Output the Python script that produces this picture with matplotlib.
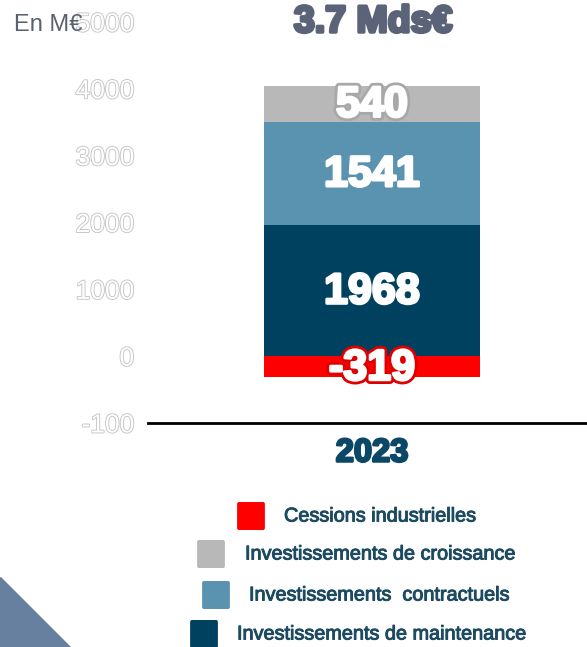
import matplotlib.pyplot as plt
import matplotlib.patheffects as pe
from matplotlib.patches import Polygon, FancyBboxPatch

# data
year = "2023"
segments = ["Cessions industrielles", "Investissements de maintenance",
            "Investissements  contractuels", "Investissements de croissance"]
values = [-319, 1968, 1541, 540]
colors = ["#ff0000", "#00415f", "#5a93b0", "#b8b8b8"]
edge_text = ["#e00000", "#00415f", "#5a93b0", "#a8a8a8"]
yticks = [-1000, 0, 1000, 2000, 3000, 4000, 5000]
ytick_labels = ["-100", "0", "1000", "2000", "3000", "4000", "5000"]

legend_order = [0, 3, 2, 1]
legend_rows = [(237, 284), (197, 245), (202, 249), (190, 237)]  # square x, text x (px)
legend_y = [516, 554, 595, 634]

W, H = 587, 647
fig = plt.figure(figsize=(W / 100, H / 100), dpi=100)
ax = fig.add_axes([148 / W, (H - 423) / H, (W - 148) / W, (423 - 22) / H])

# stacked bar
pos_bottom = 0
for v, c, ec in zip(values, colors, edge_text):
    if v < 0:
        b = 0
    else:
        b = pos_bottom
        pos_bottom += v
    ax.bar(0.01, v, bottom=b, width=0.492, color=c, zorder=2)
    ax.text(0.01, b + v / 2 - 30, str(v), ha="center", va="center", color="white",
            fontsize=31, fontweight="bold", family="Liberation Sans", zorder=3,
            path_effects=[pe.Stroke(linewidth=6, foreground=ec),
                          pe.Stroke(linewidth=2, foreground="white"),
                          pe.Normal()])

ax.set_xlim(-0.5, 0.5)
ax.set_ylim(-1000, 5000)
ax.set_yticks(yticks)
ax.set_yticklabels(ytick_labels)
ax.set_xticks([])
for s in ["left", "right", "top"]:
    ax.spines[s].set_visible(False)
ax.spines["bottom"].set_linewidth(2)
ax.tick_params(axis="y", length=0, pad=10)
for lab in ax.get_yticklabels():
    lab.set_family("Liberation Sans")
    lab.set_fontsize(19)
    lab.set_color("white")
    lab.set_path_effects([pe.withStroke(linewidth=1.3, foreground="#c4c4c4")])

# category label
fig.text(372 / W, 1 - 453 / H, year, ha="center", va="center", fontsize=23.5,
         fontweight="bold", color="#0b4766", family="Liberation Sans",
         path_effects=[pe.withStroke(linewidth=1.8, foreground="#0b4766")])

# title and unit
fig.text(373 / W, 1 - 22 / H, "3.7 Mds€", ha="center", va="center", fontsize=27,
         fontweight="bold", color="#5a6378", family="Liberation Sans",
         path_effects=[pe.withStroke(linewidth=2.5, foreground="#5a6378")])
fig.text(14 / W, 1 - 25 / H, "En M€", ha="left", va="center", fontsize=17,
         color="#5a6070", family="Liberation Sans")

# legend
for i, (sx, tx), y in zip(legend_order, legend_rows, legend_y):
    sq = FancyBboxPatch(((sx + 2) / W, 1 - (y + 12) / H), 24 / W, 24 / H,
                        boxstyle="round,pad=0.002", transform=fig.transFigure,
                        color=colors[i])
    fig.patches.append(sq)
    fig.text(tx / W, 1 - y / H, segments[i], ha="left", va="center", fontsize=14.3,
             color="#1c4a60", family="Liberation Sans",
             path_effects=[pe.withStroke(linewidth=0.7, foreground="#1c4a60")])

# decorative corner
tri = Polygon([(0, 1 - 577 / H), (0, 0), (70 / W, 0)], closed=True,
              transform=fig.transFigure, color="#6780a0")
fig.patches.append(tri)

fig.savefig("out.png", dpi=100)
